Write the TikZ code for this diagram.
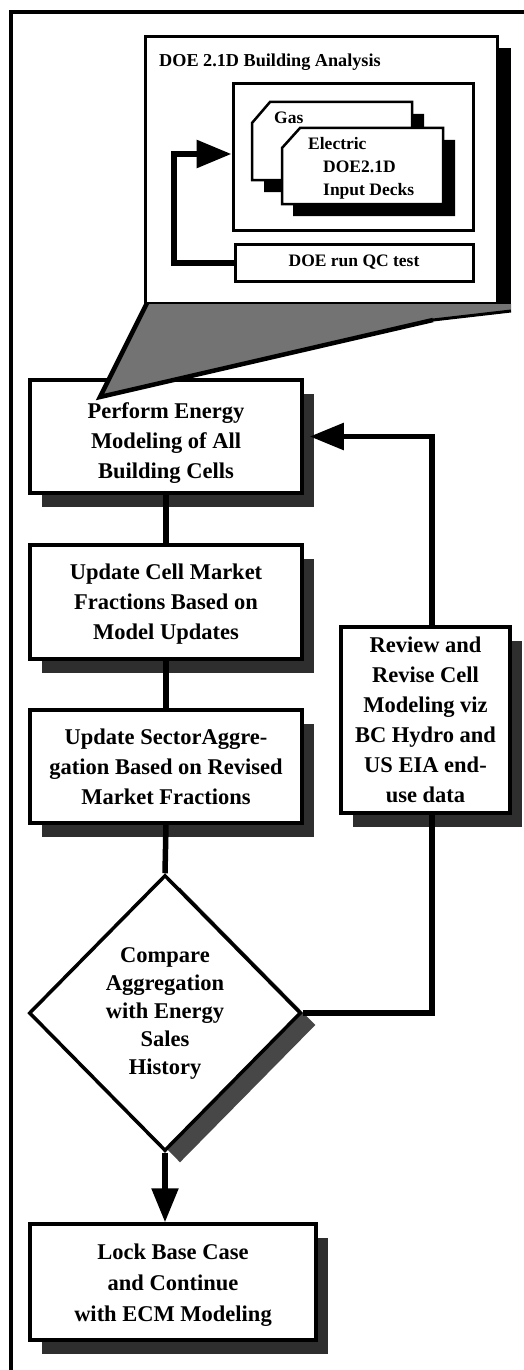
\documentclass[tikz,border=0pt]{standalone}
\usepackage{fontspec}
\setmainfont{Liberation Serif}
\usetikzlibrary{arrows.meta,shapes.geometric,shadows,calc}
\begin{document}
\begin{tikzpicture}[x=1pt,y=-1pt,line join=miter,
  mainf/.style={font=\fontsize{22.5}{30}\selectfont\bfseries},
  docf/.style={font=\fontsize{17.5}{23}\selectfont\bfseries},
  mainbox/.style={draw,line width=3.5pt,fill=white,align=center,inner sep=0pt,mainf,
    drop shadow={shadow xshift=12pt,shadow yshift=-14pt,fill=black!82,opacity=1}},
  diam/.style={shape=diamond,draw,line width=3.5pt,fill=white,align=center,inner sep=0pt,
    font=\fontsize{22.5}{28}\selectfont\bfseries,
    drop shadow={shadow xshift=15pt,shadow yshift=-12pt,fill=black!72,opacity=1}},
  docbox/.style={draw,line width=3pt,fill=white,inner sep=0pt},
  conn/.style={line width=5.5pt},
  arr/.style={-{Triangle[length=34pt,width=26pt]}}]
\useasboundingbox (0,0) rectangle (524,1370);

% outer frame
\draw[line width=4pt] (11,1370) -- (11,12) -- (524,12);

% DOE section
\fill[black] (497,48) rectangle (511,312);
\node[docbox,minimum width=352pt,minimum height=266pt] (doe) at (321,170) {};
\node[font=\fontsize{18.2}{23}\selectfont\bfseries,anchor=west,inner sep=0pt] (doetitle) at (159,62) {DOE 2.1D Building Analysis};
\node[docbox,minimum width=240pt,minimum height=146pt] (inner) at (353,157) {};

% Gas card
\fill[black] (264,135) -- (282,114) -- (424,114) -- (424,192) -- (264,192) -- cycle;
\draw[line width=2.5pt,fill=white] (252,123) -- (270,102) -- (412,102) -- (412,180) -- (252,180) -- cycle;
\node[docf,anchor=west,inner sep=0pt] (gas) at (274,118) {Gas};

% Electric card
\fill[black] (293,160) -- (311,140) -- (455,140) -- (455,216) -- (293,216) -- cycle;
\draw[line width=2.5pt,fill=white] (282,148) -- (300,128) -- (443,128) -- (443,204) -- (282,204) -- cycle;
\node[docf,anchor=north west,align=left,inner sep=0pt] (elec) at (308,137.5)
  {Electric\\\hspace*{15pt}DOE2.1D\\\hspace*{15pt}Input Decks};

% QC box
\node[docbox,docf,minimum width=238pt,minimum height=37pt] (qc) at (354,262.5) {DOE run QC test};
\draw[line width=6pt,-{Triangle[length=35pt,width=27pt]}] (qc.west) -| ([xshift=-58pt,yshift=3pt]inner.west) -- ([yshift=3pt]inner.west);

% main flow boxes
\node[mainbox,minimum width=272pt,minimum height=113pt] (perf) at (166,436.5)
  {\rule{0pt}{29.5pt}Perform Energy\\Modeling of All\\Building Cells};
\node[mainbox,minimum width=272pt,minimum height=114pt] (cell) at (166,602)
  {\rule{0pt}{20.5pt}Update Cell Market\\Fractions Based on\\Model Updates};
\node[mainbox,minimum width=272pt,minimum height=113pt] (sector) at (166,766.5)
  {Update SectorAggre-\\gation Based on Revised\\Market Fractions};
\node[diam,minimum width=272pt,minimum height=276pt] (cmp) at (165,1013)
  {Compare\\Aggregation\\with Energy\\Sales\\History};
\node[mainbox,minimum width=286pt,minimum height=116pt,
  font=\fontsize{22.5}{31}\selectfont\bfseries] (lock) at (173,1282)
  {\rule{0pt}{21.5pt}Lock Base Case\\and Continue\\with ECM Modeling};
\node[mainbox,minimum width=169pt,minimum height=186pt] (rev) at (425.5,720)
  {Review and\\Revise Cell\\Modeling viz\\BC Hydro and\\US EIA end-\\use data};

% callout wedge
\fill[black!55] (147,304) -- (100,397) -- (433,320) -- (511,311) -- (511,304) -- cycle;
\draw[line width=4.5pt] (147,303) -- (100,397) -- (433,320);
\draw[line width=3pt] (433,320) -- (511,311);

% connectors
\draw[conn] (perf) -- (cell);
\draw[conn] (cell) -- (sector);
\draw[conn] (sector.south) -- (cmp.north);
\draw[conn,arr] (cmp.south) -- (cmp.south |- lock.north);
\draw[conn] (cmp.east) -| ([xshift=6.5pt]rev.south);
\draw[conn,arr] ([xshift=6.5pt]rev.north) |- ([xshift=6pt]perf.east);
\end{tikzpicture}
\end{document}
